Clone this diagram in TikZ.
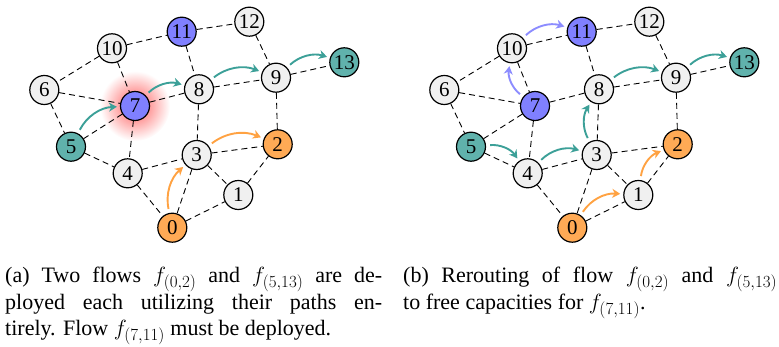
\documentclass[tikz,border=0pt]{standalone}
\usepackage{fix-cm}
\usepackage{fontspec}
\setmainfont{Liberation Serif}
\usetikzlibrary{arrows.meta,backgrounds}
% slightly larger subscripts in the captions
\DeclareMathSizes{22}{22}{17}{13}

\definecolor{vgray}{HTML}{F0F0F0}
\definecolor{vteal}{RGB}{96,178,172}
\definecolor{vorange}{RGB}{255,170,85}
\definecolor{vblue}{RGB}{128,128,255}
\definecolor{fteal}{RGB}{60,160,152}
\definecolor{forange}{RGB}{255,162,66}
\definecolor{fblue}{RGB}{140,140,255}

\tikzset{
  vert/.style={circle, draw, line width=1.2pt, fill=vgray, minimum size=29pt,
    inner sep=0pt, font=\fontsize{21}{21}\selectfont},
  graynode/.style={},
  tealnode/.style={fill=vteal},
  orangenode/.style={fill=vorange},
  bluenode/.style={fill=vblue},
  edge/.style={line width=0.9pt, dash pattern=on 6pt off 4pt},
  flow/.style={line width=1.9pt, -{Stealth[length=8pt,width=9pt,inset=2.5pt]},
    shorten <=4pt, shorten >=3pt},
  caption/.style={anchor=north west, inner sep=0pt, align=justify,
    font=\fontsize{22}{26.5}\selectfont}
}

\begin{document}
\begin{tikzpicture}[x=1pt,y=-1pt]
\useasboundingbox (0,0) rectangle (779,347);

% vertices of both panels
\foreach \p/\dx in {a/0,b/400}{
  \foreach \n/\x/\y/\s in {
     0/172.3/227.7/orangenode, 1/238.3/195/graynode, 2/277.7/144.3/orangenode,
     3/196.7/155/graynode, 4/127.7/173.3/graynode, 5/71/146.7/tealnode,
     6/44.3/90/graynode, 7/135/106/bluenode, 8/199/89.3/graynode,
     9/276/77.7/graynode, 10/112/48.3/graynode, 11/181.7/31.7/bluenode,
     12/249.3/21.7/graynode, 13/344.3/62.3/tealnode}
    \node[vert,\s] (\p\n) at (\x+\dx,\y) {\n};
}

% highlight around vertex 7 in panel (a)
\begin{scope}[on background layer]
  \shade[inner color=red!65, outer color=white] (a7.center) circle (35pt);
\end{scope}

% links
\foreach \p in {a,b}{
  \foreach \u/\v in {10/11, 11/12, 10/6, 10/7, 11/8, 12/9, 6/7, 6/5, 7/8, 8/9,
      9/13, 9/2, 7/5, 7/4, 8/3, 5/4, 4/3, 3/2, 4/0, 3/0, 3/1, 1/2, 0/1}
    \draw[edge] (\p\u) -- (\p\v);
}

% flows, panel (a)
\draw[flow, fteal] (a5) to[bend left=30] (a7);
\draw[flow, fteal] (a7) to[bend left=30] (a8);
\draw[flow, fteal] (a8) to[bend left=30] (a9);
\draw[flow, fteal] (a9) to[bend left=30] (a13);
\draw[flow, forange] (a0) to[bend left=30] (a3);
\draw[flow, forange] (a3) to[bend left=30] (a2);

% flows, panel (b)
\draw[flow, fteal] (b5) to[bend left=30] (b4);
\draw[flow, fteal] (b4) to[bend left=30] (b3);
\draw[flow, fteal] (b3) to[bend left=30] (b8);
\draw[flow, fteal] (b8) to[bend left=30] (b9);
\draw[flow, fteal] (b9) to[bend left=30] (b13);
\draw[flow, forange] (b0) to[bend left=30] (b1);
\draw[flow, forange] (b1) to[bend left=30] (b2);
\draw[flow, fblue] (b7) to[bend left=30] (b10);
\draw[flow, fblue] (b10) to[bend left=30] (b11);

% captions
\node[caption, text width=377pt] (capa) at (5,267)
  {(a) Two flows $f_{(0,2)}$ and $f_{(5,13)}$ are de-\linebreak
   ployed each utilizing their paths en-\linebreak
   tirely. Flow $f_{(7,11)}$ must be deployed.};
\node[caption, text width=374pt] (capb) at (403,267)
  {(b) Rerouting of flow $f_{(0,2)}$ and $f_{(5,13)}$\linebreak
   to free capacities for $f_{(7,11)}$.};
\end{tikzpicture}
\end{document}
